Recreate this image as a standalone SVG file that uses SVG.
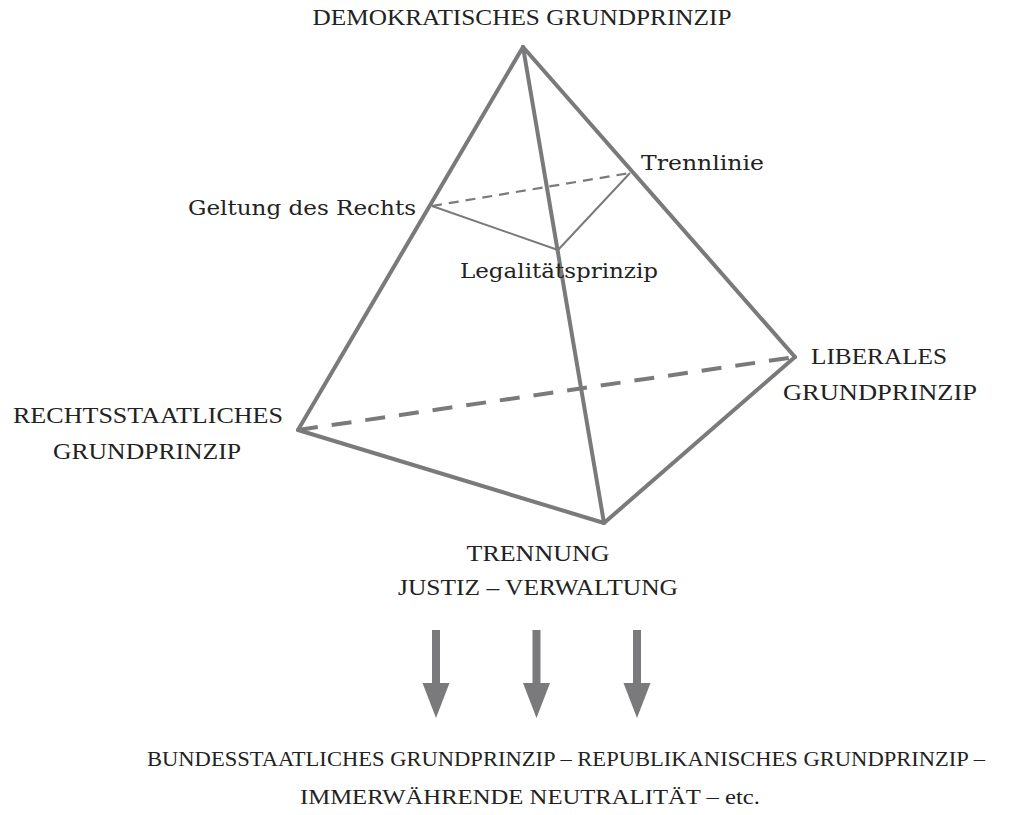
<svg xmlns="http://www.w3.org/2000/svg" width="1014" height="815" viewBox="0 0 1014 815">
<style>
.edge{stroke:#7a7a7c;stroke-width:4;fill:none;stroke-linecap:round;stroke-linejoin:round}
.dash{stroke:#7a7a7c;stroke-width:4;fill:none;stroke-dasharray:20 14}
.inner{stroke:#7a7a7c;stroke-width:2;fill:none}
.innerdash{stroke:#7a7a7c;stroke-width:2.2;fill:none;stroke-dasharray:10 7}
.arrow{fill:#7a7a7c}
text{fill:#222}
.cap{font-family:"Liberation Serif","DejaVu Serif",serif;font-size:24px}
.low{font-family:"DejaVu Serif","Liberation Serif",serif;font-size:21px}
.bot{font-family:"Liberation Serif","DejaVu Serif",serif;font-size:21.5px}
.c{text-anchor:middle}
</style>
<rect width="1014" height="815" fill="#ffffff"/>
<g id="connectors">
  <line class="dash" x1="298" y1="430" x2="795" y2="357"/>
  <line class="innerdash" x1="432" y1="206" x2="630" y2="173"/>
  <polyline class="inner" points="432,206 558,250 630,173"/>
  <line class="edge" x1="523" y1="47" x2="298" y2="430"/>
  <line class="edge" x1="523" y1="47" x2="795" y2="357"/>
  <line class="edge" x1="523" y1="47" x2="604" y2="523"/>
  <line class="edge" x1="298" y1="430" x2="604" y2="523"/>
  <line class="edge" x1="795" y1="357" x2="604" y2="523"/>
</g>
<g id="demokratisch">
  <text class="cap c" x="522" y="25" textLength="419" lengthAdjust="spacingAndGlyphs">DEMOKRATISCHES GRUNDPRINZIP</text>
</g>
<g id="trennlinie">
  <text class="low" x="641" y="170" textLength="123" lengthAdjust="spacingAndGlyphs">Trennlinie</text>
</g>
<g id="geltung">
  <text class="low" x="188" y="215" textLength="228" lengthAdjust="spacingAndGlyphs">Geltung des Rechts</text>
</g>
<g id="legalitaet">
  <text class="low" x="460" y="278" textLength="198" lengthAdjust="spacingAndGlyphs">Legalitätsprinzip</text>
</g>
<g id="liberal">
  <text class="cap c" x="879" y="364" textLength="136" lengthAdjust="spacingAndGlyphs">LIBERALES</text>
  <text class="cap c" x="880" y="400" textLength="194" lengthAdjust="spacingAndGlyphs">GRUNDPRINZIP</text>
</g>
<g id="rechtsstaatlich">
  <text class="cap c" x="148" y="423" textLength="270" lengthAdjust="spacingAndGlyphs">RECHTSSTAATLICHES</text>
  <text class="cap c" x="147" y="459" textLength="188" lengthAdjust="spacingAndGlyphs">GRUNDPRINZIP</text>
</g>
<g id="trennung">
  <text class="cap c" x="538" y="561" textLength="143" lengthAdjust="spacingAndGlyphs">TRENNUNG</text>
  <text class="cap c" x="538" y="595" textLength="280" lengthAdjust="spacingAndGlyphs">JUSTIZ – VERWALTUNG</text>
</g>
<g id="arrows">
  <path class="arrow" d="M432,630 H440 V683 H449.5 L436,718 L422.5,683 H432 Z"/>
  <path class="arrow" d="M532.5,630 H540.5 V683 H550 L536.5,718 L523,683 H532.5 Z"/>
  <path class="arrow" d="M633,630 H641 V683 H650.5 L637,718 L623.5,683 H633 Z"/>
</g>
<g id="weitere">
  <text class="bot c" x="566" y="766" textLength="838" lengthAdjust="spacingAndGlyphs">BUNDESSTAATLICHES GRUNDPRINZIP – REPUBLIKANISCHES GRUNDPRINZIP –</text>
  <text class="bot c" x="530" y="804" textLength="460" lengthAdjust="spacingAndGlyphs">IMMERWÄHRENDE NEUTRALITÄT – etc.</text>
</g>
</svg>
